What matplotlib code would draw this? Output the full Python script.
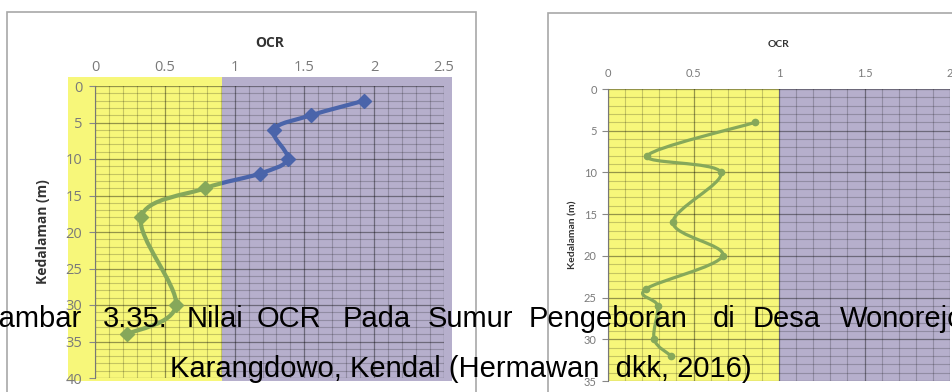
import numpy as np
import matplotlib
matplotlib.use("Agg")
import matplotlib.pyplot as plt
from matplotlib.path import Path
from matplotlib.patches import PathPatch, Rectangle
from matplotlib.ticker import MultipleLocator, FixedLocator

# OCR profile, borehole 1 (left panel)
ocr_1 = [1.93, 1.55, 1.28, 1.38, 1.18, 0.79, 0.33, 0.58, 0.23]
depth_1 = [2, 4, 6, 10, 12, 14, 18, 30, 34]

# OCR profile, borehole 2 (right panel)
ocr_2 = [0.86, 0.23, 0.66, 0.38, 0.67, 0.22, 0.29, 0.27, 0.37]
depth_2 = [4, 8, 10, 16, 20, 24, 26, 30, 32]

x_ticks_1 = [0, 0.5, 1, 1.5, 2, 2.5]
y_ticks_1 = [0, 5, 10, 15, 20, 25, 30, 35, 40]
x_ticks_2 = [0, 0.5, 1, 1.5, 2]
y_ticks_2 = [0, 5, 10, 15, 20, 25, 30, 35]

caption_line1 = ["Gambar", "3.35.", "Nilai", "OCR", "Pada", "Sumur",
                 "Pengeboran", "di", "Desa", "Wonorejo,"]
caption_line2 = "Karangdowo, Kendal (Hermawan  dkk, 2016)"

W, H = 952, 392
fig = plt.figure(figsize=(W / 100, H / 100), dpi=100)
fig.patch.set_facecolor("white")

YELLOW = "#f7f77a"
PURPLE = "#b6afcc"
BLUE = "#4a64aa"
GREEN = "#86a85a"


def smooth_path(xs, ys):
    """Smoothed polyline through the points (cubic Bezier segments)."""
    p = np.column_stack([xs, ys]).astype(float)
    n = len(p)
    verts = [p[0]]
    codes = [Path.MOVETO]
    for i in range(n - 1):
        p0 = p[i - 1] if i > 0 else p[i]
        p3 = p[i + 2] if i + 2 < n else p[i + 1]
        c1 = p[i] + (p[i + 1] - p0) / 6.0
        c2 = p[i + 1] - (p3 - p[i]) / 6.0
        verts += [c1, c2, p[i + 1]]
        codes += [Path.CURVE4] * 3
    return Path(verts, codes)


def px_axes(left, top, right, bottom):
    return fig.add_axes([left / W, 1 - bottom / H, (right - left) / W,
                         (bottom - top) / H])


def style_axes(ax, xmax, ymax, xt, yt, fs, label_fs, xpad, ypad, tick_font):
    ax.set_xlim(0, xmax)
    ax.set_ylim(ymax, 0)
    ax.set_facecolor("none")
    ax.xaxis.set_ticks_position("top")
    ax.xaxis.set_label_position("top")
    ax.xaxis.set_major_locator(FixedLocator(xt))
    ax.yaxis.set_major_locator(FixedLocator(yt))
    ax.xaxis.set_minor_locator(MultipleLocator(0.1))
    ax.yaxis.set_minor_locator(MultipleLocator(1))
    ax.set_xticklabels([f"{v:g}" for v in xt], fontsize=fs, color="#7a7a7a",
                       family=tick_font)
    ax.set_yticklabels([f"{v:g}" for v in yt], fontsize=fs, color="#7a7a7a",
                       family=tick_font)
    ax.tick_params(axis="x", which="major", length=0, pad=xpad)
    ax.tick_params(axis="y", which="major", length=4, pad=ypad, color="#888888")
    ax.tick_params(which="minor", length=0)
    ax.grid(which="minor", color="black", alpha=0.2, linewidth=0.8)
    ax.grid(which="major", color="black", alpha=0.4, linewidth=0.9)
    for s in ("right", "bottom", "top"):
        ax.spines[s].set_visible(False)
    ax.spines["left"].set_color("#777777")
    ax.set_xlabel("OCR", fontsize=label_fs, fontweight="bold",
                  color="#333333", family=tick_font)
    ax.set_ylabel("Kedalaman (m)", fontsize=label_fs, fontweight="bold",
                  color="#333333", family=tick_font)


# chart frames
fig.patches.append(Rectangle((7 / W, -0.05), (476 - 7) / W, 1 - 12 / H + 0.05,
                             transform=fig.transFigure, fill=False,
                             edgecolor="#a8a8a8", linewidth=1.2))
fig.patches.append(Rectangle((548 / W, -0.05), 0.6, 1 - 13 / H + 0.05,
                             transform=fig.transFigure, fill=False,
                             edgecolor="#a8a8a8", linewidth=1.2))

# ---- left panel ----
ax1 = px_axes(95, 86, 444, 378)
style_axes(ax1, 2.5, 40, x_ticks_1, y_ticks_1, 10.5, 10, 8, 5, "Open Sans")
ax1.yaxis.set_label_coords(-0.13, 0.5)
ax1.xaxis.labelpad = 9

split_1 = 0.91
r_y = Rectangle((-0.193, -1.2), split_1 + 0.193, 41.6, facecolor=YELLOW,
                edgecolor="none", zorder=0.5, clip_on=False)
r_p = Rectangle((split_1, -1.2), 2.556 - split_1, 41.6, facecolor=PURPLE,
                edgecolor="none", zorder=0.5, clip_on=False)
ax1.add_patch(r_y)
ax1.add_patch(r_p)

path_1 = smooth_path(ocr_1, depth_1)
for rect, col in ((r_y, GREEN), (r_p, BLUE)):
    pp = PathPatch(path_1, facecolor="none", edgecolor=col, linewidth=3.0,
                   zorder=3, capstyle="round", joinstyle="round")
    ax1.add_patch(pp)
    pp.set_clip_path(rect)
    mk, = ax1.plot(ocr_1, depth_1, linestyle="none", marker="D",
                   markersize=7, color=col, zorder=4)
    mk.set_clip_path(rect)

# ---- right panel ----
ax2 = px_axes(608, 89, 950, 381)
style_axes(ax2, 2.0, 35, x_ticks_2, y_ticks_2, 8, 7.5, 7, 4, "Lato")
ax2.yaxis.set_label_coords(-0.09, 0.5)
ax2.xaxis.labelpad = 15

ax2.axvspan(0, 1.0, facecolor=YELLOW, zorder=0.5)
ax2.axvspan(1.0, 2.0, facecolor=PURPLE, zorder=0.5)
ax2.add_patch(PathPatch(smooth_path(ocr_2, depth_2), facecolor="none",
                        edgecolor=GREEN, linewidth=2.3, zorder=3))
ax2.plot(ocr_2, depth_2, linestyle="none", marker="o", markersize=4.5,
         color=GREEN, zorder=4)

# ---- caption ----
cap_font = dict(family="Liberation Sans", fontsize=21, color="black",
                va="baseline", zorder=10)
word_x = [82, 103, 187, 257, 343, 428, 529, 713, 753, 840]
y1 = 1 - 327 / H
for i, (word, x) in enumerate(zip(caption_line1, word_x)):
    fig.text(x / W, y1, word, ha="right" if i == 0 else "left", **cap_font)
fig.text(170 / W, 1 - 377 / H, caption_line2, ha="left", **cap_font)

fig.savefig("out.png", dpi=100)
